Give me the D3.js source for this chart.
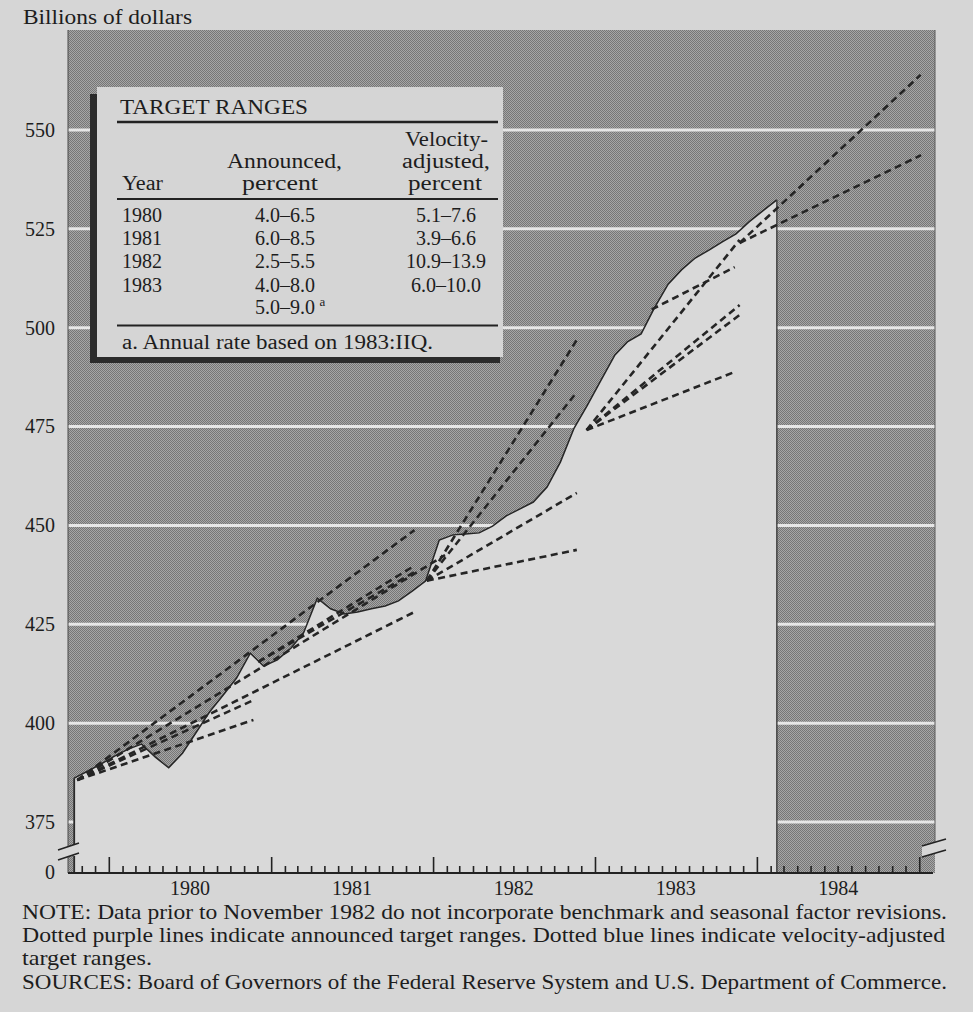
<!DOCTYPE html>
<html><head><meta charset="utf-8">
<script src="https://cdn.jsdelivr.net/npm/d3@7/dist/d3.min.js"></script>
<style>
html,body{margin:0;padding:0;background:#d6d6d6;}
svg{display:block;}
text{font-family:"Liberation Serif","Times New Roman",serif;fill:#1d1d1d;}
</style></head><body>
<svg id="chart" width="973" height="1012"></svg>
<script>
// ---------------- data ----------------
const dataMonths = ["1979-10","1979-11","1979-12",
 "1980-01","1980-02","1980-03","1980-04","1980-05","1980-06","1980-07","1980-08","1980-09","1980-10","1980-11","1980-12",
 "1981-01","1981-02","1981-03","1981-04","1981-05","1981-06","1981-07","1981-08","1981-09","1981-10","1981-11","1981-12",
 "1982-01","1982-02","1982-03","1982-04","1982-05","1982-06","1982-07","1982-08","1982-09","1982-10","1982-11","1982-12",
 "1983-01","1983-02","1983-03","1983-04","1983-05","1983-06","1983-07","1983-08","1983-09","1983-10","1983-11","1983-12",
 "1984-01","1984-02"];
const m1Values = [386.1,387.9,389.7,
 391.7,393.5,394.7,391.4,388.7,392.4,397.5,402.8,407.1,411.4,417.7,414.4,
 416.0,419.0,422.8,431.6,428.9,427.6,428.1,428.9,429.6,430.9,433.4,435.9,
 446.3,447.6,447.8,448.1,449.8,452.4,454.1,455.9,459.7,466.0,474.6,480.4,
 486.8,493.1,496.4,498.4,505.0,511.0,514.6,517.6,519.6,521.7,523.7,526.8,
 529.6,532.3];

// target-range lines (start date/value -> end date/value)
const coneStartDates  = ["1979-10-22","1979-10-22","1979-10-22","1979-10-22","1979-10-22",
 "1980-12-03","1980-12-03",
 "1981-12-18","1981-12-18","1981-12-18","1981-12-18",
 "1982-12-13","1982-12-13","1982-12-13","1982-12-13",
 "1983-05-09","1983-11-23","1983-11-23"];
const coneStartValues = [385.6,385.6,385.6,385.6,385.6,
 415.5,415.5,
 436.0,436.0,436.0,436.0,
 474.1,474.1,474.1,474.1,
 504.6,521.4,521.4];
const coneEndDates    = ["1980-11-22","1980-11-22","1981-11-20","1982-01-28","1981-11-20",
 "1981-11-20","1981-11-20",
 "1982-11-21","1982-11-21","1982-11-21","1982-11-21",
 "1983-11-12","1983-11-23","1983-11-23","1983-11-23",
 "1983-11-12","1985-01-05","1985-01-04"];
const coneEndValues   = [400.8,405.8,428.1,442.5,448.8,
 438.2,439.8,
 443.8,458.2,483.7,496.9,
 488.8,503.2,505.7,522.2,
 515.3,543.6,563.9];

const yTickValues = [375,400,425,450,475,500,525,550];
const zeroLabel = "0";
const yearLabels = ["1980","1981","1982","1983","1984"];

const tableTitle = "TARGET RANGES";
const tableYears = ["1980","1981","1982","1983",""];
const tableAnnounced = ["4.0–6.5","6.0–8.5","2.5–5.5","4.0–8.0","5.0–9.0"];
const tableVelocity = ["5.1–7.6","3.9–6.6","10.9–13.9","6.0–10.0",""];
const tableFootnote = "a. Annual rate based on 1983:IIQ.";
const noteLines = [
 "NOTE: Data prior to November 1982 do not incorporate benchmark and seasonal factor revisions.",
 "Dotted purple lines indicate announced target ranges. Dotted blue lines indicate velocity-adjusted",
 "target ranges.",
 "SOURCES: Board of Governors of the Federal Reserve System and U.S. Department of Commerce."
];
const yAxisTitle = "Billions of dollars";

// ---------------- chart ----------------
const svg = d3.select("#chart");
const parseM = d3.timeParse("%Y-%m");
const parseD = d3.timeParse("%Y-%m-%d");
const mid = s => { const d = parseM(s); return new Date(d.getFullYear(), d.getMonth(), 15); };

const plotL = 68, plotR = 935, plotT = 30, axisY = 873;
const x = d3.scaleTime().domain([new Date(1979,9,1), new Date(1985,1,1)]).range([68,933]);
const y = d3.scaleLinear().domain([375,575]).range([822,31]);

const defs = svg.append("defs");
const pat = defs.append("pattern").attr("id","stip").attr("width",2).attr("height",2)
  .attr("patternUnits","userSpaceOnUse");
pat.append("rect").attr("width",2).attr("height",2).attr("fill","#a6a6a6");
pat.append("rect").attr("width",1).attr("height",1).attr("fill","#767676");
pat.append("rect").attr("x",1).attr("y",1).attr("width",1).attr("height",1).attr("fill","#767676");

svg.append("rect").attr("width",973).attr("height",1012).attr("fill","#d6d6d6");
svg.append("rect").attr("x",plotL).attr("y",plotT).attr("width",plotR-plotL).attr("height",axisY-plotT)
  .attr("fill","url(#stip)");

// gridlines
svg.append("g").selectAll("line").data(yTickValues).join("line")
  .attr("x1",plotL).attr("x2",plotR).attr("y1",d=>y(d)).attr("y2",d=>y(d))
  .attr("stroke","#e6e6e6").attr("stroke-width",3);

// data area
const series = dataMonths.map((m,i)=>({date:mid(m), v:m1Values[i]}));
const area = d3.area().x(d=>x(d.date)).y0(axisY).y1(d=>y(d.v));
svg.append("path").datum(series).attr("d",area).attr("fill","#d9d9d9");
svg.append("path").datum(series).attr("d",d3.line().x(d=>x(d.date)).y(d=>y(d.v)))
  .attr("fill","none").attr("stroke","#262626").attr("stroke-width",1.5);
const first = series[0], last = series[series.length-1];
svg.append("line").attr("x1",x(first.date)).attr("x2",x(first.date)).attr("y1",y(first.v)).attr("y2",845)
  .attr("stroke","#2a2a2a").attr("stroke-width",1.8);
svg.append("line").attr("x1",x(first.date)).attr("x2",x(first.date)).attr("y1",856).attr("y2",axisY)
  .attr("stroke","#2a2a2a").attr("stroke-width",1.8);
svg.append("line").attr("x1",x(last.date)).attr("x2",x(last.date)).attr("y1",y(last.v)).attr("y2",axisY)
  .attr("stroke","#3a3a3a").attr("stroke-width",1.4);

// plot borders
svg.append("line").attr("x1",plotL).attr("x2",plotL).attr("y1",plotT).attr("y2",axisY)
  .attr("stroke","#4a4a4a").attr("stroke-width",1);
svg.append("line").attr("x1",plotR).attr("x2",plotR).attr("y1",plotT).attr("y2",844)
  .attr("stroke","#5a5a5a").attr("stroke-width",1);

// target range lines
const cones = coneStartDates.map((s,i)=>({x0:parseD(s),y0:coneStartValues[i],x1:parseD(coneEndDates[i]),y1:coneEndValues[i]}));
svg.append("g").selectAll("line").data(cones).join("line")
  .attr("x1",d=>x(d.x0)).attr("y1",d=>y(d.y0)).attr("x2",d=>x(d.x1)).attr("y2",d=>y(d.y1))
  .attr("stroke","#252525").attr("stroke-width",2.6).attr("stroke-dasharray","7,4.5");

// x axis
const monthTicks = d3.timeMonth.range(new Date(1979,10,1), new Date(1985,1,1));
const gx = svg.append("g").attr("class","minor").attr("transform",`translate(0,${axisY})`);
gx.call(d3.axisBottom(x).tickValues(monthTicks.filter(d=>d.getMonth()!==0)).tickSizeInner(-7).tickSizeOuter(0).tickFormat(""));
gx.select(".domain").remove();
gx.selectAll(".tick line").attr("stroke","#222").attr("stroke-width",1.6);
const gx2 = svg.append("g").attr("transform",`translate(0,${axisY})`);
gx2.call(d3.axisBottom(x).tickValues(monthTicks.filter(d=>d.getMonth()===0)).tickSizeInner(-16).tickSizeOuter(0).tickFormat(""));
gx2.select(".domain").remove();
gx2.selectAll(".tick line").attr("stroke","#222").attr("stroke-width",1.6);
svg.append("line").attr("x1",68).attr("x2",933).attr("y1",axisY).attr("y2",axisY)
  .attr("stroke","#222").attr("stroke-width",1.8);
const gx3 = svg.append("g").attr("transform",`translate(0,${axisY})`);
gx3.call(d3.axisBottom(x).tickValues(yearLabels.map(s=>new Date(+s,6,1))).tickSize(0).tickPadding(8)
   .tickFormat(d3.timeFormat("%Y")));
gx3.select(".domain").remove();
gx3.selectAll("text").attr("font-size",20).attr("font-family","Liberation Serif").attr("fill","#1d1d1d");

// y axis labels
const gy = svg.append("g").attr("transform",`translate(${plotL},0)`);
gy.call(d3.axisLeft(y).tickValues(yTickValues).tickSize(0).tickPadding(13));
gy.select(".domain").remove();
gy.selectAll("text").attr("font-size",20).attr("font-family","Liberation Serif").attr("fill","#1d1d1d");
svg.append("text").attr("x",55).attr("y",axisY).attr("dy","0.32em").attr("text-anchor","end")
  .attr("font-size",20).text(zeroLabel);

// axis breaks
function brk(x1,x2,yA,yB){
  svg.append("path").attr("d",`M${x1},${yA}L${x2},${yA-7}L${x2},${yB-7}L${x1},${yB}Z`).attr("fill","#d6d6d6");
  svg.append("line").attr("x1",x1).attr("y1",yA).attr("x2",x2).attr("y2",yA-7).attr("stroke","#222").attr("stroke-width",1.6);
  svg.append("line").attr("x1",x1).attr("y1",yB).attr("x2",x2).attr("y2",yB-7).attr("stroke","#222").attr("stroke-width",1.6);
}
brk(58,79,850,860);
brk(922,946,846,857);

// title
const fit = (sel,w)=>sel.attr("textLength",w).attr("lengthAdjust","spacingAndGlyphs");
fit(svg.append("text").attr("x",23).attr("y",24).attr("font-size",20).text(yAxisTitle),169);

// table box
svg.append("rect").attr("x",90).attr("y",94).attr("width",410).attr("height",269).attr("fill","#2b2b2b");
svg.append("rect").attr("x",97).attr("y",87).attr("width",406).attr("height",270).attr("fill","#d5d5d5");
[[122,2.4],[199,2],[325.5,2]].forEach(([yy,w])=>{
  svg.append("line").attr("x1",117).attr("x2",498).attr("y1",yy).attr("y2",yy).attr("stroke","#222").attr("stroke-width",w);
});
const tf = 20;
fit(svg.append("text").attr("x",120).attr("y",114).attr("font-size",tf).text(tableTitle),188);
fit(svg.append("text").attr("x",405).attr("y",146).attr("font-size",tf).text("Velocity-"),83);
fit(svg.append("text").attr("x",227).attr("y",168).attr("font-size",tf).text("Announced,"),115);
fit(svg.append("text").attr("x",402).attr("y",168).attr("font-size",tf).text("adjusted,"),88);
fit(svg.append("text").attr("x",122).attr("y",190).attr("font-size",tf).text("Year"),41);
fit(svg.append("text").attr("x",242).attr("y",190).attr("font-size",tf).text("percent"),76);
fit(svg.append("text").attr("x",408).attr("y",190).attr("font-size",tf).text("percent"),74);
const rowY = [221.5,245,268,291.5,313.5];
tableYears.forEach((t,i)=>{ if(t) svg.append("text").attr("x",122).attr("y",rowY[i]).attr("font-size",tf).text(t); });
tableAnnounced.forEach((t,i)=>{
  svg.append("text").attr("x",285).attr("y",rowY[i]).attr("font-size",tf).attr("text-anchor","middle").text(t);
  if(i===4){ svg.append("text").attr("x",319.5).attr("y",rowY[i]-8).attr("font-size",13).text("a"); }
});
tableVelocity.forEach((t,i)=>{ if(t) svg.append("text").attr("x",446).attr("y",rowY[i]).attr("font-size",tf).attr("text-anchor","middle").text(t); });
fit(svg.append("text").attr("x",122).attr("y",349).attr("font-size",tf).text(tableFootnote),311);

// notes
const noteY = [919,942,965,989];
const noteW = [925,923,130,925];
noteLines.forEach((t,i)=>{
  fit(svg.append("text").attr("x",22).attr("y",noteY[i]).attr("font-size",21).text(t),noteW[i]);
});
</script>
</body></html>
